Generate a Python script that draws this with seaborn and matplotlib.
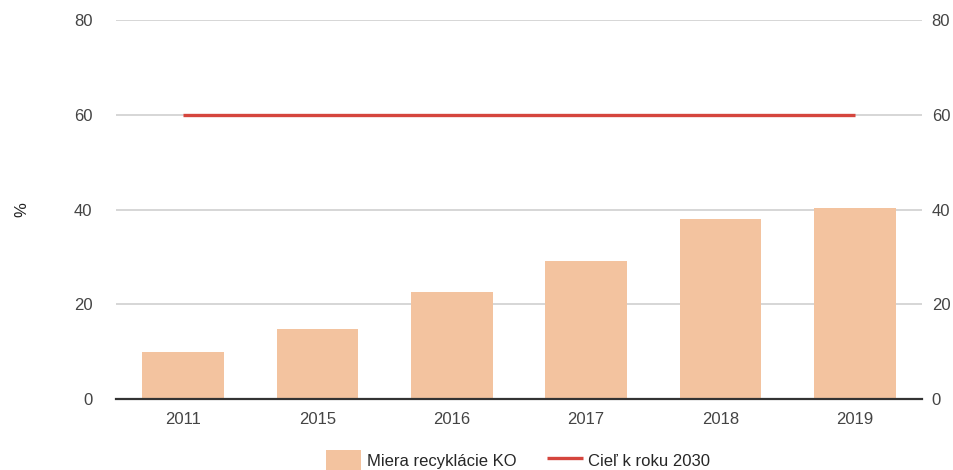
import pandas as pd
import numpy as np
import seaborn as sns
import matplotlib.pyplot as plt

years = ['2011', '2015', '2016', '2017', '2018', '2019']
recycling = [9.9, 14.8, 22.6, 29.2, 38.1, 40.3]
target = [60, 60, 60, 60, 60, 60]
yticks = [0, 20, 40, 60, 80]

df = pd.DataFrame({'rok': years, 'miera': recycling, 'ciel': target})

sns.set_theme(style='white')
plt.rcParams['font.family'] = ['Liberation Sans', 'DejaVu Sans']

fig = plt.figure(figsize=(9.54, 4.70), dpi=100)
ax = fig.add_axes([116 / 954, 71 / 470, 806 / 954, 379 / 470])

sns.barplot(data=df, x='rok', y='miera', color='#f3c39f', saturation=1,
            width=0.61, ax=ax, label='Miera recyklácie KO', zorder=2,
            linewidth=0, legend=False)
ax.plot(df['rok'], df['ciel'], color='#d5453d', lw=2.4, label='Cieľ k roku 2030',
        zorder=3, solid_capstyle='butt')

ax.set_xlim(-0.5, 5.5)
ax.set_ylim(0, 80)
ax.set_yticks(yticks)
ax.yaxis.grid(True, color='#cccccc', lw=1.1, zorder=0)
ax.set_axisbelow(True)
for s in ['top', 'right', 'left']:
    ax.spines[s].set_visible(False)
ax.spines['bottom'].set_color('#333333')
ax.spines['bottom'].set_linewidth(1.6)
ax.spines['bottom'].set_zorder(4)
ax.tick_params(axis='both', length=0, labelsize=12, labelcolor='#444444')
ax.tick_params(axis='y', pad=17)
ax.tick_params(axis='x', pad=9)
ax.set_xlabel('')
ax.set_ylabel('%', fontsize=12, color='#222222')
ax.yaxis.set_label_coords(-0.108, 0.5)

ax2 = ax.twinx()
ax2.set_ylim(0, 80)
ax2.set_yticks(yticks)
for s in ax2.spines.values():
    s.set_visible(False)
ax2.tick_params(axis='y', length=0, labelsize=12, labelcolor='#444444', pad=7)
ax2.grid(False)

bar_handle = ax.patches[0]
line_handle = ax.get_lines()[-1]
fig.legend([bar_handle, line_handle], ['Miera recyklácie KO', 'Cieľ k roku 2030'],
           loc='center', bbox_to_anchor=(518 / 954, 0.02),
           ncol=2, frameon=False, fontsize=12, handlelength=2.15, handleheight=1.5,
           columnspacing=1.8, handletextpad=0.35)

fig.savefig('out.png', dpi=100)
